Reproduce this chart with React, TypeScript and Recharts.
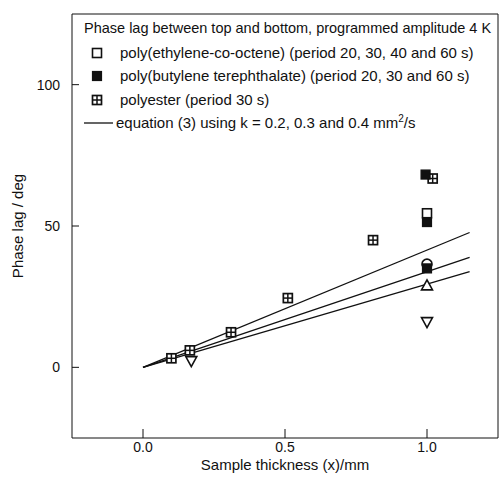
import { ScatterChart, Scatter, XAxis, YAxis, ReferenceArea, Legend, Label } from "recharts";

const FONT = '"Liberation Sans", Arial, sans-serif';
const INK = "#111";

// polyester (period 30 s)
const polyesterX = [0.1, 0.165, 0.31, 0.51, 0.81, 1.02];
const polyesterY = [3.2, 6, 12.4, 24.5, 45, 66.8];
// poly(butylene terephthalate)
const pbtX = [0.995, 1.0, 1.0];
const pbtY = [68.2, 51.4, 35];
// poly(ethylene-co-octene)
const pecoX = [1.0];
const pecoY = [54.5];
// other symbols without legend entry
const circleX = [1.0];
const circleY = [36.5];
const triUpX = [1.0];
const triUpY = [29];
const triDownX = [0.17, 1.0];
const triDownY = [2.2, 16];
// equation (3), k = 0.2, 0.3, 0.4 mm2/s
const eqX = [0, 1.15];
const eqK02 = [0, 47.7];
const eqK03 = [0, 38.9];
const eqK04 = [0, 33.9];

const xTicks = [0, 0.5, 1.0];
const yTicks = [0, 50, 100];

const legendTitle = "Phase lag between top and bottom, programmed amplitude 4 K";
const legendNames = [
  "poly(ethylene-co-octene) (period 20, 30, 40 and 60 s)",
  "poly(butylene terephthalate) (period 20, 30 and 60 s)",
  "polyester (period 30 s)",
];

const pts = (xs: number[], ys: number[]) => xs.map((x, i) => ({ x, y: ys[i] }));

const S = 4.5;

const OpenSquare = ({ cx, cy }: any) => (
  <rect x={cx - S} y={cy - S} width={S * 2} height={S * 2} fill="#fff" stroke={INK} strokeWidth={1.6} />
);
const FilledSquare = ({ cx, cy }: any) => (
  <rect x={cx - S} y={cy - S} width={S * 2} height={S * 2} fill={INK} stroke={INK} strokeWidth={1.2} />
);
const GridSquare = ({ cx, cy }: any) => (
  <g>
    <rect x={cx - S} y={cy - S} width={S * 2} height={S * 2} fill="#fff" stroke={INK} strokeWidth={1.7} />
    <line x1={cx - S} x2={cx + S} y1={cy} y2={cy} stroke={INK} strokeWidth={1.5} />
    <line x1={cx} x2={cx} y1={cy - S} y2={cy + S} stroke={INK} strokeWidth={1.5} />
  </g>
);
const OpenCircle = ({ cx, cy }: any) => (
  <circle cx={cx} cy={cy} r={5} fill="#fff" stroke={INK} strokeWidth={1.6} />
);
const TriUp = ({ cx, cy }: any) => (
  <path d={`M${cx},${cy - 5.5}L${cx + 5.5},${cy + 4.5}L${cx - 5.5},${cy + 4.5}Z`} fill="#fff" stroke={INK} strokeWidth={1.6} />
);
const TriDown = ({ cx, cy }: any) => (
  <path d={`M${cx},${cy + 5.5}L${cx + 5.5},${cy - 4.5}L${cx - 5.5},${cy - 4.5}Z`} fill="#fff" stroke={INK} strokeWidth={1.6} />
);
const NoDot = () => <g />;

const legendMarkers = [OpenSquare, FilledSquare, GridSquare];

const renderLegend = () => (
  <div style={{ fontFamily: FONT, fontSize: 15, color: INK, lineHeight: "23.5px", whiteSpace: "nowrap" }}>
    <div style={{ paddingLeft: 12, fontSize: 14.5 }}>{legendTitle}</div>
    {legendNames.map((name, i) => {
      const M = legendMarkers[i];
      return (
        <div key={name} style={{ position: "relative", paddingLeft: 48 }}>
          <svg width={12} height={12} style={{ position: "absolute", left: 19, top: 6 }}>
            <M cx={6} cy={6} />
          </svg>
          {name}
        </div>
      );
    })}
    <div style={{ position: "relative", paddingLeft: 44 }}>
      <svg width={30} height={4} style={{ position: "absolute", left: 12, top: 10 }}>
        <line x1={0} x2={29} y1={2} y2={2} stroke={INK} strokeWidth={1.3} />
      </svg>
      equation (3) using k = 0.2, 0.3 and 0.4 mm<sup style={{ fontSize: 10, lineHeight: 0 }}>2</sup>/s
    </div>
  </div>
);

const tickStyle = { fontFamily: FONT, fontSize: 14, fill: INK };

export default function App() {
  return (
    <div style={{ position: "absolute", left: 0, top: 0, width: 499, height: 489, overflow: "hidden", background: "#fff", fontFamily: FONT }}>
      <ScatterChart width={499} height={489} margin={{ top: 14, right: 1, bottom: 0, left: 0 }}>
        <XAxis
          type="number"
          dataKey="x"
          domain={[-0.25, 1.25]}
          ticks={xTicks}
          tickFormatter={(v: number) => v.toFixed(1)}
          tick={tickStyle}
          tickSize={-9}
          tickMargin={13}
          tickLine={{ stroke: INK }}
          axisLine={false}
          height={51}
        >
          <Label
            value="Sample thickness (x)/mm"
            position="insideBottom"
            offset={19}
            style={{ fontFamily: FONT, fontSize: 15, fill: INK }}
          />
        </XAxis>
        <YAxis
          type="number"
          dataKey="y"
          domain={[-25, 125]}
          ticks={yTicks}
          tick={tickStyle}
          tickSize={-7}
          tickMargin={19}
          tickLine={{ stroke: INK }}
          axisLine={false}
          width={72}
        >
          <Label
            value="Phase lag / deg"
            angle={-90}
            position="insideLeft"
            offset={18}
            style={{ fontFamily: FONT, fontSize: 15, fill: INK, textAnchor: "middle" }}
          />
        </YAxis>
        <ReferenceArea x1={-0.25} x2={1.25} y1={-25} y2={125} fill="none" stroke={INK} strokeWidth={1} />
        <Legend layout="vertical" align="center" verticalAlign="middle" content={renderLegend} wrapperStyle={{ top: 17, left: 72, width: 427 }} />
        <Scatter data={pts(eqX, eqK02)} line={{ stroke: INK, strokeWidth: 1.3 }} shape={NoDot} isAnimationActive={false} legendType="none" />
        <Scatter data={pts(eqX, eqK03)} line={{ stroke: INK, strokeWidth: 1.3 }} shape={NoDot} isAnimationActive={false} legendType="none" />
        <Scatter data={pts(eqX, eqK04)} line={{ stroke: INK, strokeWidth: 1.3 }} shape={NoDot} isAnimationActive={false} legendType="none" />
        <Scatter data={pts(polyesterX, polyesterY)} shape={GridSquare} isAnimationActive={false} />
        <Scatter data={pts(pecoX, pecoY)} shape={OpenSquare} isAnimationActive={false} />
        <Scatter data={pts(circleX, circleY)} shape={OpenCircle} isAnimationActive={false} />
        <Scatter data={pts(triUpX, triUpY)} shape={TriUp} isAnimationActive={false} />
        <Scatter data={pts(triDownX, triDownY)} shape={TriDown} isAnimationActive={false} />
        <Scatter data={pts(pbtX, pbtY)} shape={FilledSquare} isAnimationActive={false} />
      </ScatterChart>
    </div>
  );
}
